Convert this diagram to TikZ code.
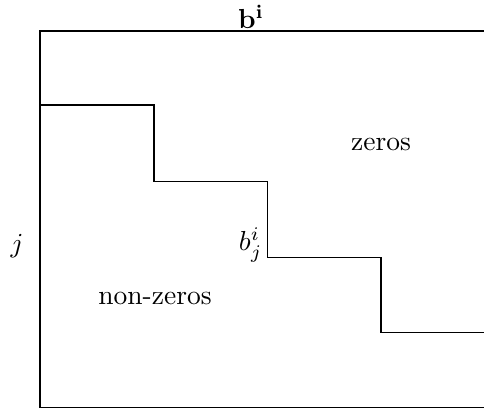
\documentclass[tikz,border=0pt]{standalone}
\begin{document}
\begin{tikzpicture}[x=0.3636pt,y=-0.3636pt,line width=0.45pt,
  lbl/.style={inner sep=0pt}]
\useasboundingbox (0,0) rectangle (484,409);
\coordinate (tl) at (40,31);
\coordinate (tr) at (484,31);
\coordinate (bl) at (40,407.5);
\coordinate (br) at (484,407.5);
\draw (tr) -- (tl) -- (bl) -- (br);
\draw (40,105) -- (154,105) -- (154,181.5) -- (267.5,181.5) -- (267.5,257.5) -- (381,257.5) -- (381,332.5) -- (484,332.5);
\node[lbl] (bi) at (251,17) {$\mathbf{b^i}$};
\node[lbl] (zeros) at (381,144) {zeros};
\node[lbl] (nonzeros) at (155,298) {non-zeros};
\node[lbl] (j) at (17,246) {$j$};
\node[lbl,anchor=east] (bij) at (263,245) {$b^i_j$};
\end{tikzpicture}
\end{document}
